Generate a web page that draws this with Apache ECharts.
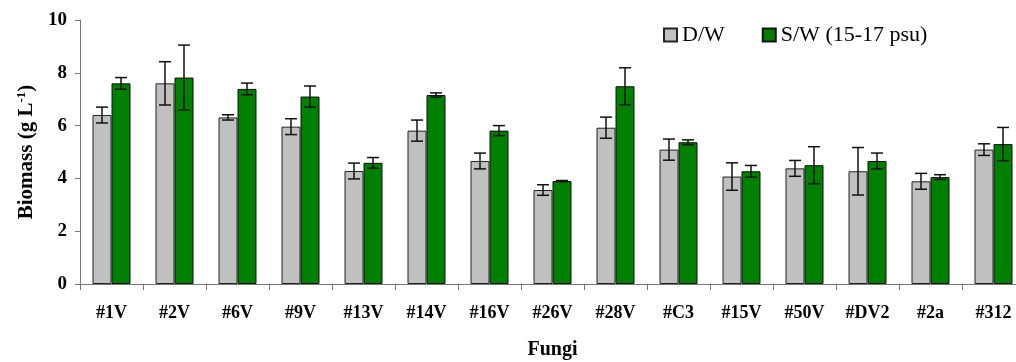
<!DOCTYPE html>
<html>
<head>
<meta charset="utf-8">
<script src="https://cdn.jsdelivr.net/npm/echarts@6/dist/echarts.min.js"></script>
<style>
  html, body { margin: 0; padding: 0; background: #fff; }
  #chart { width: 1016px; height: 362px; }
</style>
</head>
<body>
<div id="chart"></div>
<script>
// fungi strains and biomass (g/L), mean +- error
let fungi = ['#1V', '#2V', '#6V', '#9V', '#13V', '#14V', '#16V', '#26V', '#28V', '#C3', '#15V', '#50V', '#DV2', '#2a', '#312']
let dwMean = [6.40, 7.60, 6.31, 5.96, 4.28, 5.81, 4.66, 3.56, 5.92, 5.09, 4.07, 4.38, 4.27, 3.89, 5.09]
let dwErr = [0.30, 0.82, 0.10, 0.30, 0.30, 0.40, 0.30, 0.20, 0.40, 0.40, 0.52, 0.30, 0.90, 0.30, 0.22]
let swMean = [7.60, 7.82, 7.39, 7.10, 4.59, 7.16, 5.81, 3.90, 7.49, 5.37, 4.27, 4.50, 4.66, 4.05, 5.30]
let swErr = [0.22, 1.23, 0.22, 0.40, 0.20, 0.08, 0.19, 0.02, 0.70, 0.09, 0.22, 0.70, 0.30, 0.09, 0.63]
let yTicks = [0, 2, 4, 6, 8, 10]

const font = 'Liberation Serif'
const barW = 19

var chart = echarts.init(document.getElementById('chart'))

// error bar drawn at bar centre, shifted by offset px
function errorBars(mean, err, offset) {
  let data = mean.map((m, i) => [i, m - err[i], m + err[i]])
  return {
    type: 'custom',
    silent: true,
    z: 10,
    data: data,
    renderItem: function (params, api) {
      let lo = api.coord([api.value(0), api.value(1)])
      let hi = api.coord([api.value(0), api.value(2)])
      let x = lo[0] + offset
      let cap = 6
      let style = { stroke: '#111', lineWidth: 1.5 }
      return {
        type: 'group',
        children: [
          { type: 'line', shape: { x1: x, y1: hi[1], x2: x, y2: lo[1] }, style: style },
          { type: 'line', shape: { x1: x - cap, y1: hi[1], x2: x + cap, y2: hi[1] }, style: style },
          { type: 'line', shape: { x1: x - cap, y1: lo[1], x2: x + cap, y2: lo[1] }, style: style }
        ]
      }
    }
  }
}

let option = {
  animation: false,
  textStyle: { fontFamily: font },
  grid: { left: 80, top: 20, bottom: 78, right: -9, outerBoundsMode: 'none' },
  legend: {
    top: 24,
    left: 663,
    padding: 0,
    itemWidth: 13,
    itemHeight: 13,
    itemGap: 37,
    icon: 'rect',
    textStyle: { fontFamily: font, fontSize: 22, color: '#000' },
    data: ['D/W', 'S/W (15-17 psu)']
  },
  xAxis: {
    type: 'category',
    data: fungi,
    name: 'Fungi',
    nameLocation: 'middle',
    nameGap: 56,
    nameTextStyle: { fontFamily: font, fontSize: 20, fontWeight: 'bold', color: '#000' },
    axisLine: { lineStyle: { color: '#777', width: 1 } },
    axisTick: { show: true, length: 6, lineStyle: { color: '#777' } },
    axisLabel: { margin: 20, fontFamily: font, fontSize: 18, fontWeight: 'bold', color: '#000', interval: 0 }
  },
  yAxis: {
    type: 'value',
    min: yTicks[0],
    max: yTicks[yTicks.length - 1],
    interval: 2,
    name: 'Biomass (g L{sup|-1})',
    nameLocation: 'middle',
    nameGap: 40,
    nameTextStyle: {
      fontFamily: font, fontSize: 21, fontWeight: 'bold', color: '#000',
      rich: {
        sup: { fontFamily: font, fontSize: 13, fontWeight: 'bold', color: '#000', verticalAlign: 'top', padding: [0, 0, 10, 0] }
      }
    },
    splitLine: { show: false },
    axisLine: { show: true, lineStyle: { color: '#777', width: 1 } },
    axisTick: { show: true, length: 5, lineStyle: { color: '#777' } },
    axisLabel: { margin: 13, fontFamily: font, fontSize: 19, fontWeight: 'bold', color: '#000' }
  },
  series: [
    {
      name: 'D/W',
      type: 'bar',
      data: dwMean,
      barWidth: barW,
      barGap: '0%',
      itemStyle: { color: '#c0c0c0', borderColor: '#222', borderWidth: 1 }
    },
    {
      name: 'S/W (15-17 psu)',
      type: 'bar',
      data: swMean,
      barWidth: barW,
      barGap: '0%',
      itemStyle: { color: '#008000', borderColor: '#111', borderWidth: 1 }
    },
    errorBars(dwMean, dwErr, -barW / 2),
    errorBars(swMean, swErr, barW / 2)
  ]
}

chart.setOption(option)
</script>
</body>
</html>
